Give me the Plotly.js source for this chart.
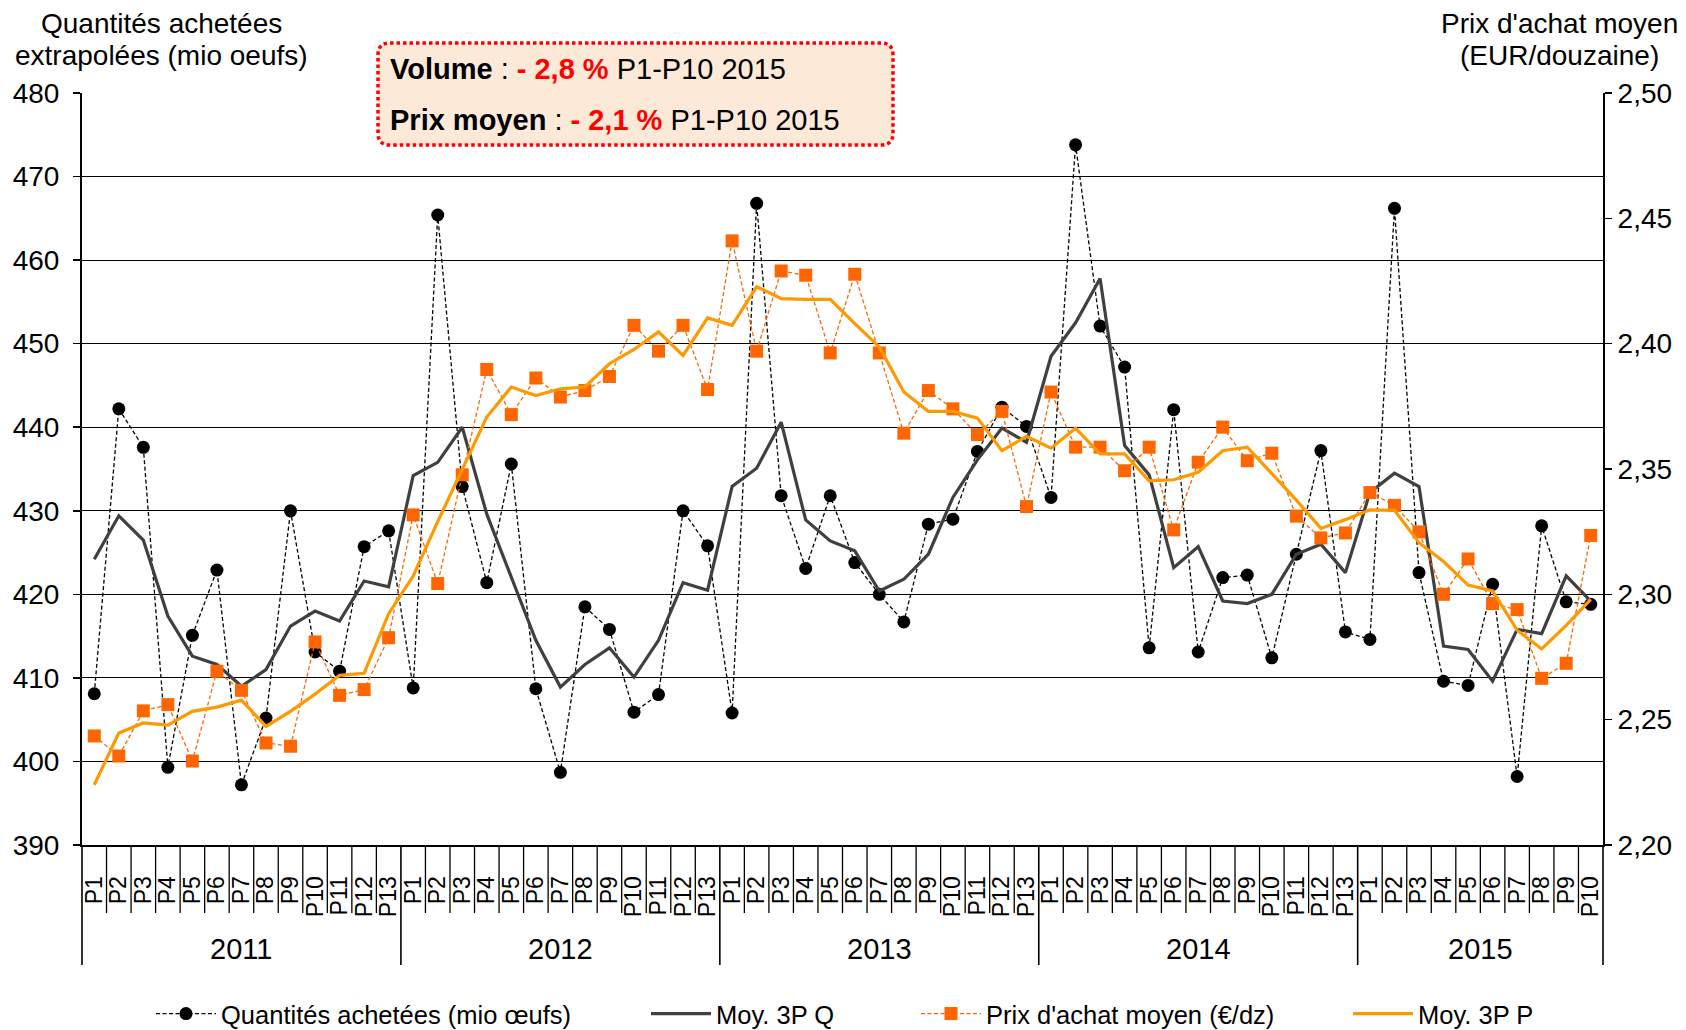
<!DOCTYPE html>
<html>
<head>
<meta charset="utf-8">
<script src="https://cdn.plot.ly/plotly-3.0.1.min.js"></script>
<style>
html,body{margin:0;padding:0;background:#fff;}
#chart{width:1686px;height:1030px;}
</style>
</head>
<body>
<div id="chart"></div>
<script>
// ---- data ----
var years = ['2011', '2012', '2013', '2014', '2015'];
var periodsPerYear = [13, 13, 13, 13, 10];

var quantites = [
  408.1, 442.2, 437.6, 399.3, 415.1, 422.9, 397.2, 405.2, 430.0, 413.1, 410.8, 425.7, 427.6,
  408.8, 465.4, 432.9, 421.4, 435.6, 408.7, 398.7, 418.5, 415.8, 405.9, 408.0, 430.0, 425.8,
  405.8, 466.8, 431.8, 423.1, 431.8, 423.8, 420.0, 416.7, 428.4, 429.0, 437.1, 442.4, 440.1,
  431.6, 473.8, 452.1, 447.2, 413.6, 442.1, 413.1, 422.0, 422.3, 412.4, 424.8, 437.2, 415.5,
  414.6, 466.2, 422.6, 409.6, 409.1, 421.2, 398.2, 428.2, 419.1, 418.8
];
var moyQ = [
  424.2, 429.4, 426.5, 417.4, 412.6, 411.6, 409.0, 411.0, 416.2, 418.0, 416.8, 421.6, 420.9,
  434.2, 435.8, 440.0, 429.6, 422.0, 414.5, 408.9, 411.6, 413.6, 410.1, 414.5, 421.4, 420.5,
  432.9, 435.1, 440.6, 428.9, 426.4, 425.2, 420.4, 421.8, 424.8, 431.6, 436.1, 439.9, 438.2,
  448.5, 452.5, 457.8, 437.8, 434.3, 423.2, 425.7, 419.2, 418.9, 420.0, 424.8, 426.0, 422.6,
  432.2, 434.5, 432.9, 413.8, 413.4, 409.6, 415.8, 415.3, 422.2, 419.2
];
var prix = [
  2.2435, 2.2355, 2.2535, 2.2560, 2.2335, 2.2693, 2.2617, 2.2407, 2.2394, 2.2810, 2.2597, 2.2620, 2.2827,
  2.3317, 2.3043, 2.3477, 2.3897, 2.3717, 2.3863, 2.3787, 2.3813, 2.3869, 2.4073, 2.3970, 2.4073, 2.3817,
  2.4410, 2.3970, 2.4290, 2.4273, 2.3963, 2.4277, 2.3963, 2.3643, 2.3813, 2.3740, 2.3637, 2.3730, 2.3350,
  2.3807, 2.3587, 2.3587, 2.3493, 2.3587, 2.3257, 2.3527, 2.3667, 2.3533, 2.3563, 2.3312, 2.3225, 2.3245,
  2.3406, 2.3355, 2.3249, 2.3000, 2.3141, 2.2963, 2.2939, 2.2665, 2.2725, 2.3235
];
var moyP = [
  2.2240, 2.2447, 2.2487, 2.2478, 2.2533, 2.2550, 2.2578, 2.2473, 2.2533, 2.2602, 2.2677, 2.2685, 2.2923,
  2.3073, 2.3290, 2.3497, 2.3707, 2.3827, 2.3793, 2.3820, 2.3827, 2.3920, 2.3977, 2.4047, 2.3953, 2.4103,
  2.4073, 2.4227, 2.4180, 2.4177, 2.4177, 2.4080, 2.3987, 2.3807, 2.3730, 2.3730, 2.3703, 2.3573, 2.3630,
  2.3583, 2.3663, 2.3560, 2.3560, 2.3453, 2.3457, 2.3487, 2.3573, 2.3587, 2.3480, 2.3376, 2.3263, 2.3298,
  2.3337, 2.3335, 2.3206, 2.3131, 2.3037, 2.3014, 2.2857, 2.2782, 2.2876, 2.2980
];
var seriesNames = ['Quantités achetées (mio œufs)', 'Moy. 3P Q', "Prix d'achat moyen (€/dz)", 'Moy. 3P P'];
var leftTitle = ['Quantités achetées', 'extrapolées (mio oeufs)'];
var rightTitle = ["Prix d'achat moyen", '(EUR/douzaine)'];
var boxLine1 = '<b>Volume</b> : <b><span style="color:#FF0000">- 2,8 %</span></b> P1-P10 2015';
var boxLine2 = '<b>Prix moyen</b> : <b><span style="color:#FF0000">- 2,1 %</span></b> P1-P10 2015';

// ---- build category positions ----
var xIdx = [], periodLabels = [], yearStart = [];
(function () {
  var k = 0;
  for (var y = 0; y < years.length; y++) {
    yearStart.push(k);
    for (var p = 1; p <= periodsPerYear[y]; p++) {
      xIdx.push(k); periodLabels.push('P' + p); k++;
    }
  }
  yearStart.push(k);
})();
var N = xIdx.length;

// ---- geometry (px) ----
var W = 1686, H = 1030;
var M = {l: 82, r: 83, t: 93, b: 185, autoexpand: false};
var PW = W - M.l - M.r, PH = H - M.t - M.b;
function px2x(px) { return (px - M.l) / PW; }
function py2y(py) { return (H - M.b - py) / PH; }

var FONT = 'Liberation Sans, Arial, sans-serif';

var traces = [
  {x: xIdx, y: quantites, name: seriesNames[0], type: 'scatter', mode: 'lines+markers',
   line: {color: '#000000', width: 1.3, dash: '4px,2.5px'},
   marker: {symbol: 'circle', size: 13, color: '#000000'}, yaxis: 'y', legend: 'legend'},
  {x: xIdx, y: moyQ, name: seriesNames[1], type: 'scatter', mode: 'lines',
   line: {color: '#404040', width: 3.2}, yaxis: 'y', legend: 'legend2'},
  {x: xIdx, y: prix, name: seriesNames[2], type: 'scatter', mode: 'lines+markers',
   line: {color: '#FF6600', width: 1.3, dash: '4px,2.5px'},
   marker: {symbol: 'square', size: 13, color: '#FF6600'}, yaxis: 'y2', legend: 'legend3'},
  {x: xIdx, y: moyP, name: seriesNames[3], type: 'scatter', mode: 'lines',
   line: {color: '#FF9900', width: 3.2}, yaxis: 'y2', legend: 'legend4'}
];

// separators below the axis
var shapes = [];
for (var k = 0; k <= N; k++) {
  var isYear = yearStart.indexOf(k) >= 0;
  shapes.push({type: 'line', xref: 'paper', yref: 'paper',
    x0: k / N, x1: k / N, y0: 0, y1: py2y(isYear ? 965 : 913),
    line: {color: '#000000', width: isYear ? 1.6 : 1.3}});
}
// rounded dotted box
(function () {
  var x0 = px2x(378), x1 = px2x(893), y0 = py2y(145), y1 = py2y(43);
  var rx = 12 / PW, ry = 12 / PH;
  var d = 'M' + (x0 + rx) + ',' + y1 +
    ' L' + (x1 - rx) + ',' + y1 +
    ' Q' + x1 + ',' + y1 + ' ' + x1 + ',' + (y1 - ry) +
    ' L' + x1 + ',' + (y0 + ry) +
    ' Q' + x1 + ',' + y0 + ' ' + (x1 - rx) + ',' + y0 +
    ' L' + (x0 + rx) + ',' + y0 +
    ' Q' + x0 + ',' + y0 + ' ' + x0 + ',' + (y0 + ry) +
    ' L' + x0 + ',' + (y1 - ry) +
    ' Q' + x0 + ',' + y1 + ' ' + (x0 + rx) + ',' + y1 + ' Z';
  shapes.push({type: 'path', xref: 'paper', yref: 'paper', path: d, layer: 'above',
    fillcolor: '#FDE9D8', line: {color: '#FF0000', width: 3.5, dash: '3.5px,3px'}});
})();

function note(xpx, ypx, text, size, anchor) {
  return {xref: 'paper', yref: 'paper', x: px2x(xpx), y: py2y(ypx), xanchor: anchor || 'center',
    yanchor: 'middle', text: text, showarrow: false, font: {family: FONT, size: size, color: '#000'}};
}
var annotations = [
  note(161, 24, leftTitle[0], 28), note(161, 55, leftTitle[1], 28),
  note(1559, 24, rightTitle[0], 28), note(1559, 55, rightTitle[1], 28),
  note(388, 69, boxLine1, 29, 'left'), note(388, 120, boxLine2, 29, 'left')
];
for (var y = 0; y < years.length; y++) {
  annotations.push({xref: 'paper', yref: 'paper',
    x: (yearStart[y] + yearStart[y + 1]) / 2 / N, y: py2y(949),
    xanchor: 'center', yanchor: 'middle', text: years[y], showarrow: false,
    font: {family: FONT, size: 29, color: '#000'}});
}

function legendAt(pxLeft) {
  return {x: px2x(pxLeft), y: py2y(1014), xanchor: 'left', yanchor: 'middle',
    orientation: 'h', itemwidth: 60, bgcolor: 'rgba(0,0,0,0)', borderwidth: 0,
    font: {family: FONT, size: 25.5, color: '#000'}};
}

var layout = {
  width: W, height: H, margin: M,
  paper_bgcolor: '#ffffff', plot_bgcolor: '#ffffff',
  separators: ', ',
  font: {family: FONT, color: '#000'},
  showlegend: true,
  legend: legendAt(151), legend2: legendAt(646), legend3: legendAt(916), legend4: legendAt(1348),
  xaxis: {range: [-0.5, N - 0.5], tickmode: 'array', tickvals: xIdx, ticktext: periodLabels,
    tickangle: -90, ticks: '', showgrid: false, zeroline: false, automargin: false,
    showline: true, linecolor: '#000', linewidth: 2,
    tickfont: {family: FONT, size: 23, color: '#000'}, ticklabelstandoff: 20, fixedrange: true},
  yaxis: {range: [390, 480], tick0: 390, dtick: 10, showgrid: true, gridcolor: '#000', gridwidth: 1.2,
    zeroline: false, showline: true, linecolor: '#000', linewidth: 2, automargin: false,
    ticks: 'outside', ticklen: 7, tickwidth: 1.5, tickcolor: '#000',
    tickfont: {family: FONT, size: 28, color: '#000'}, ticklabelstandoff: 8},
  yaxis2: {range: [2.2, 2.5], tick0: 2.2, dtick: 0.05, tickformat: '.2f', overlaying: 'y', side: 'right',
    showgrid: false, zeroline: false, showline: true, linecolor: '#000', linewidth: 2, automargin: false,
    ticks: 'outside', ticklen: 7, tickwidth: 1.5, tickcolor: '#000',
    tickfont: {family: FONT, size: 28, color: '#000'}, ticklabelstandoff: 0},
  shapes: shapes,
  annotations: annotations
};

Plotly.newPlot('chart', traces, layout, {displayModeBar: false, staticPlot: true});
</script>
</body>
</html>
